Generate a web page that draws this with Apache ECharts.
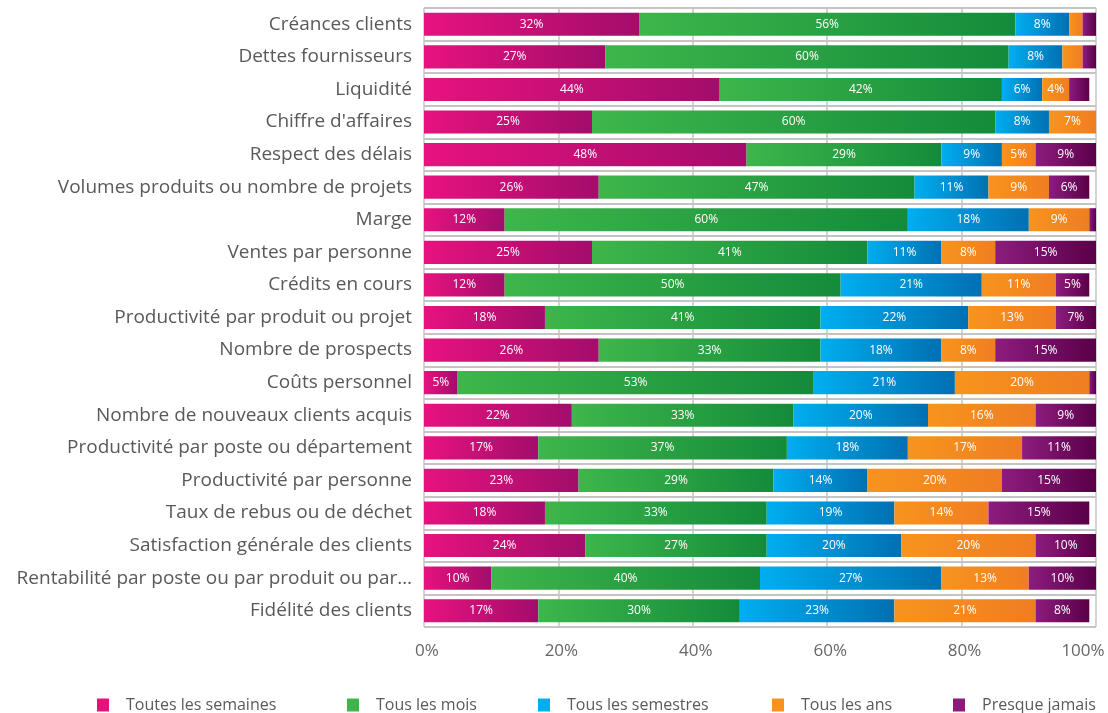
<!DOCTYPE html>
<html>
<head>
<meta charset="utf-8">
<script src="https://cdn.jsdelivr.net/npm/echarts@6/dist/echarts.min.js"></script>
<style>
  html, body { margin: 0; padding: 0; background: #ffffff; overflow: hidden; }
  #chart { width: 1108px; height: 713px; }
</style>
</head>
<body>
<div id="chart"></div>
<script>
// Indicator categories, top to bottom
const categories = [
  "Créances clients",
  "Dettes fournisseurs",
  "Liquidité",
  "Chiffre d'affaires",
  "Respect des délais",
  "Volumes produits ou nombre de projets",
  "Marge",
  "Ventes par personne",
  "Crédits en cours",
  "Productivité par produit ou projet",
  "Nombre de prospects",
  "Coûts personnel",
  "Nombre de nouveaux clients acquis",
  "Productivité par poste ou département",
  "Productivité par personne",
  "Taux de rebus ou de déchet",
  "Satisfaction générale des clients",
  "Rentabilité par poste ou par produit ou par…",
  "Fidélité des clients"
];

const seriesNames = ["Toutes les semaines", "Tous les mois", "Tous les semestres", "Tous les ans", "Presque jamais"];

// Shares (%) per frequency, in the same order as categories
const toutesLesSemaines = [32, 27, 44, 25, 48, 26, 12, 25, 12, 18, 26, 5, 22, 17, 23, 18, 24, 10, 17];
const tousLesMois       = [56, 60, 42, 60, 29, 47, 60, 41, 50, 41, 33, 53, 33, 37, 29, 33, 27, 40, 30];
const tousLesSemestres  = [8, 8, 6, 8, 9, 11, 18, 11, 21, 22, 18, 21, 20, 18, 14, 19, 20, 27, 23];
const tousLesAns        = [2, 3, 4, 7, 5, 9, 9, 8, 11, 13, 8, 20, 16, 17, 20, 14, 20, 13, 21];
const presqueJamais     = [2, 2, 3, 1, 9, 6, 1, 15, 5, 7, 15, 1, 9, 11, 15, 15, 10, 10, 8];

const xTicks = [0, 20, 40, 60, 80, 100];

const values = [toutesLesSemaines, tousLesMois, tousLesSemestres, tousLesAns, presqueJamais];

// Horizontal gradient per segment: light on the left, darker on the right
const gradients = [
  ['#e7127f', '#a20d6b'],
  ['#3eb64b', '#148b3a'],
  ['#00aeef', '#0070b2'],
  ['#f7941d', '#f07d22'],
  ['#8d1c7e', '#5a0048']
];
const legendColors = ['#e5127e', '#3db54a', '#00aeef', '#f7921e', '#8b1b7b'];
const legendLeft = [97, 347, 538, 772, 953];

const FONT = '"Open Sans", "Noto Sans", sans-serif';

// Segments narrower than 4% carry no value label
const series = seriesNames.map((name, i) => ({
  name: name,
  type: 'bar',
  stack: 'total',
  barCategoryGap: '29%',
  data: values[i],
  itemStyle: {
    color: new echarts.graphic.LinearGradient(0, 0, 1, 0, [
      { offset: 0, color: gradients[i][0] },
      { offset: 1, color: gradients[i][1] }
    ])
  },
  label: {
    show: true,
    position: 'inside',
    color: '#ffffff',
    fontFamily: FONT,
    fontSize: 12,
    formatter: p => (p.value >= 4 ? p.value + '%' : '')
  },
  emphasis: { disabled: true }
}));

const legends = seriesNames.map((name, i) => ({
  data: [{ name: name, itemStyle: { color: legendColors[i] } }],
  left: legendLeft[i],
  top: 697,
  padding: 0,
  itemWidth: 12,
  itemHeight: 13,
  icon: 'rect',
  selectedMode: false,
  textStyle: {
    color: '#5a5a5a',
    fontFamily: FONT,
    fontSize: 16,
    padding: [0, 0, 0, 12]
  }
}));

const tickTextStyle = { color: '#666666', fontFamily: FONT, fontSize: 17 };

const chart = echarts.init(document.getElementById('chart'), null, { renderer: 'canvas' });
chart.setOption({
  animation: false,
  backgroundColor: '#ffffff',
  grid: { left: 424, right: 12, top: 8, bottom: 86, containLabel: false, outerBoundsMode: 'none' },
  legend: legends,
  xAxis: {
    type: 'value',
    min: xTicks[0],
    max: xTicks[xTicks.length - 1],
    interval: xTicks[1] - xTicks[0],
    axisLine: { show: false },
    axisTick: { show: false },
    axisLabel: {
      margin: 16,
      hideOverlap: false,
      formatter: v => (v === xTicks[xTicks.length - 1] ? '{last|' + v + '%}' : '{tick|' + v + '%}'),
      rich: {
        tick: Object.assign({ padding: [0, 0, 0, 6] }, tickTextStyle),
        last: Object.assign({ padding: [0, 26, 0, 0] }, tickTextStyle)
      }
    },
    splitLine: { show: true, lineStyle: { color: '#c4c4c4', width: 1.5 } }
  },
  yAxis: {
    type: 'category',
    inverse: true,
    data: categories,
    axisLine: { show: false },
    axisTick: { show: false },
    axisLabel: {
      color: '#595959',
      fontFamily: FONT,
      fontSize: 19,
      margin: 12
    },
    splitLine: { show: true, lineStyle: { color: '#c4c4c4', width: 2 } }
  },
  series: series
});
</script>
</body>
</html>
